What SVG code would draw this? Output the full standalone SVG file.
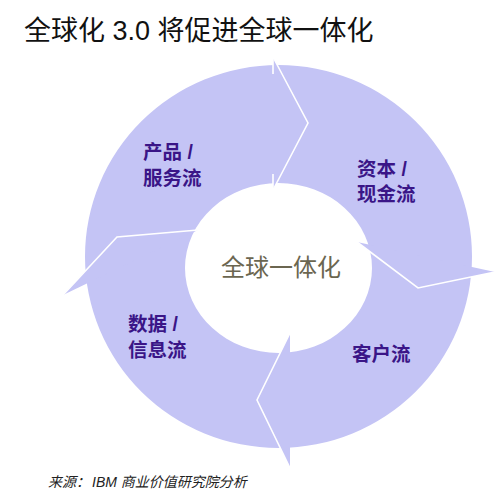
<svg xmlns="http://www.w3.org/2000/svg" width="502" height="504" viewBox="0 0 502 504">
  <style>
    .title { font-family: "Liberation Sans", "Noto Sans CJK SC", sans-serif; font-size: 27px; fill: #111111; }
    .lbl { font-family: "Liberation Sans", "Noto Sans CJK SC", sans-serif; font-size: 19.5px; font-weight: bold; fill: #3A1587; }
    .center { font-family: "Liberation Sans", "Noto Sans CJK SC", sans-serif; font-size: 24px; fill: #6B6650; }
    .src { font-family: "Liberation Sans", "Noto Sans CJK SC", sans-serif; font-size: 14px; font-style: italic; fill: #222222; }
    .band { fill: #C4C4F5; }
    .edge { fill: none; stroke: #FFFFFF; stroke-width: 1.6; stroke-linejoin: miter; }
  </style>
  <rect width="502" height="504" fill="#FFFFFF"/>
  <text class="title" x="24" y="40">全球化 3.0 将促进全球一体化</text>

  <g id="ring">
    <path class="band" fill-rule="evenodd" d="M 85,256.5 A 193.5 191.5 0 1 0 472,256.5 A 193.5 191.5 0 1 0 85,256.5 Z M 185,268 A 93.5 85 0 1 0 372,268 A 93.5 85 0 1 0 185,268 Z"/>
  </g>

  <g id="connectors">
    <polygon class="band" points="273,57 308,123 273,190"/>
    <polygon class="band" points="357,242 418,288 495,272"/>
    <polygon class="band" points="290,333 257,400 290,468"/>
    <polygon class="band" points="198,230 117,237 63,295"/>
    <polyline class="edge" points="273,57 308,123 273,190"/>
    <polyline class="edge" points="357,242 418,288 495,272"/>
    <polyline class="edge" points="290,333 257,400 290,468"/>
    <polyline class="edge" points="198,230 117,237 63,295"/>
    <line class="edge" x1="273" y1="57" x2="273" y2="74"/>
    <line class="edge" x1="273" y1="190" x2="273" y2="174"/>
  </g>

  <g id="node-product">
    <text class="lbl" x="143" y="159">产品 /</text>
    <text class="lbl" x="143" y="185">服务流</text>
  </g>
  <g id="node-capital">
    <text class="lbl" x="357" y="176">资本 /</text>
    <text class="lbl" x="357" y="201">现金流</text>
  </g>
  <g id="node-customer">
    <text class="lbl" x="352" y="361">客户流</text>
  </g>
  <g id="node-data">
    <text class="lbl" x="128" y="331">数据 /</text>
    <text class="lbl" x="128" y="357">信息流</text>
  </g>
  <g id="node-center">
    <text class="center" x="281" y="276" text-anchor="middle">全球一体化</text>
  </g>

  <text class="src" x="48" y="487">来源：</text>
  <text class="src" x="92" y="487">IBM 商业价值研究院分析</text>
</svg>
